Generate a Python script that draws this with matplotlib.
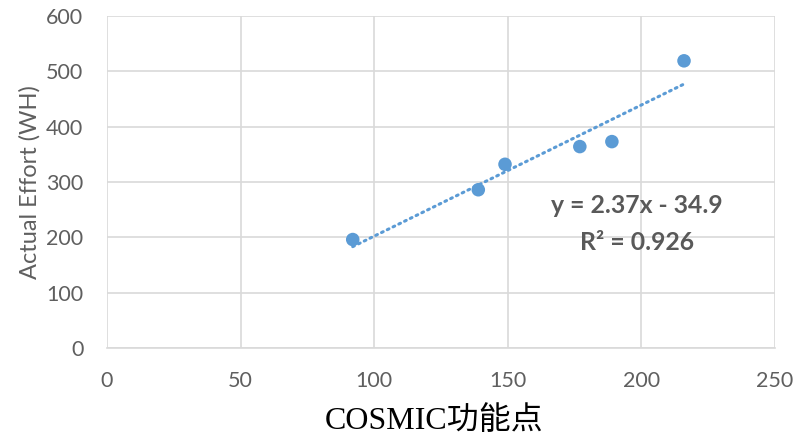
import matplotlib
matplotlib.use("Agg")
import matplotlib.pyplot as plt
import numpy as np

# COSMIC function points vs. actual effort (work hours)
cosmic_fp = [92, 139, 149, 177, 189, 216]
actual_effort = [196, 286, 332, 364, 373, 519]

# Linear trend line (least squares)
slope = 2.37
intercept = -34.9
r_squared = 0.926

x_ticks = [0, 50, 100, 150, 200, 250]
y_ticks = [0, 100, 200, 300, 400, 500, 600]

blue = "#5B9BD5"
grid_gray = "#D9D9D9"
text_gray = "#5f5f5f"

fig = plt.figure(figsize=(7.98, 4.41), dpi=100)
ax = fig.add_axes([0.134, 0.2109, 0.837, 0.7528])

ax.set_xlim(0, 250)
ax.set_ylim(0, 600)
ax.set_xticks(x_ticks)
ax.set_yticks(y_ticks)
ax.grid(True, color=grid_gray, linewidth=1.2)
ax.set_axisbelow(True)
for side in ["top", "right", "left"]:
    ax.spines[side].set_visible(False)
ax.spines["bottom"].set_color(grid_gray)
ax.spines["bottom"].set_linewidth(1.2)
ax.tick_params(axis="both", length=0, labelsize=15.5, labelcolor=text_gray)
ax.tick_params(axis="x", pad=16.5)
ax.tick_params(axis="y", pad=17)
for lbl in ax.get_xticklabels() + ax.get_yticklabels():
    lbl.set_fontfamily("Lato")

# trend line across the data range
x_fit = np.array([min(cosmic_fp), max(cosmic_fp)])
ax.plot(x_fit, slope * x_fit + intercept, linestyle=(0, (0.6, 1.5)),
        color=blue, linewidth=2.2, dash_capstyle="round", zorder=2)

ax.scatter(cosmic_fp, actual_effort, s=95, color=blue, edgecolors="none", zorder=3)

ax.text(198.5, 258, f"y = {slope:.2f}x - {abs(intercept):.1f}", ha="center", va="center",
        fontsize=17.8, fontweight="bold", color="#595959", family="Lato")
ax.text(198.5, 190, f"R² = {r_squared:.3f}", ha="center", va="center",
        fontsize=17.8, fontweight="bold", color="#595959", family="Lato")

ax.set_ylabel("Actual Effort (WH)", fontsize=17, color=text_gray, family="Lato",
              labelpad=4)
fig.text(0.544, 0.046, "COSMIC功能点", ha="center", va="center", fontsize=23,
         color="black", family=["Liberation Serif", "Noto Sans CJK SC"])

fig.savefig("out.png", dpi=100)
